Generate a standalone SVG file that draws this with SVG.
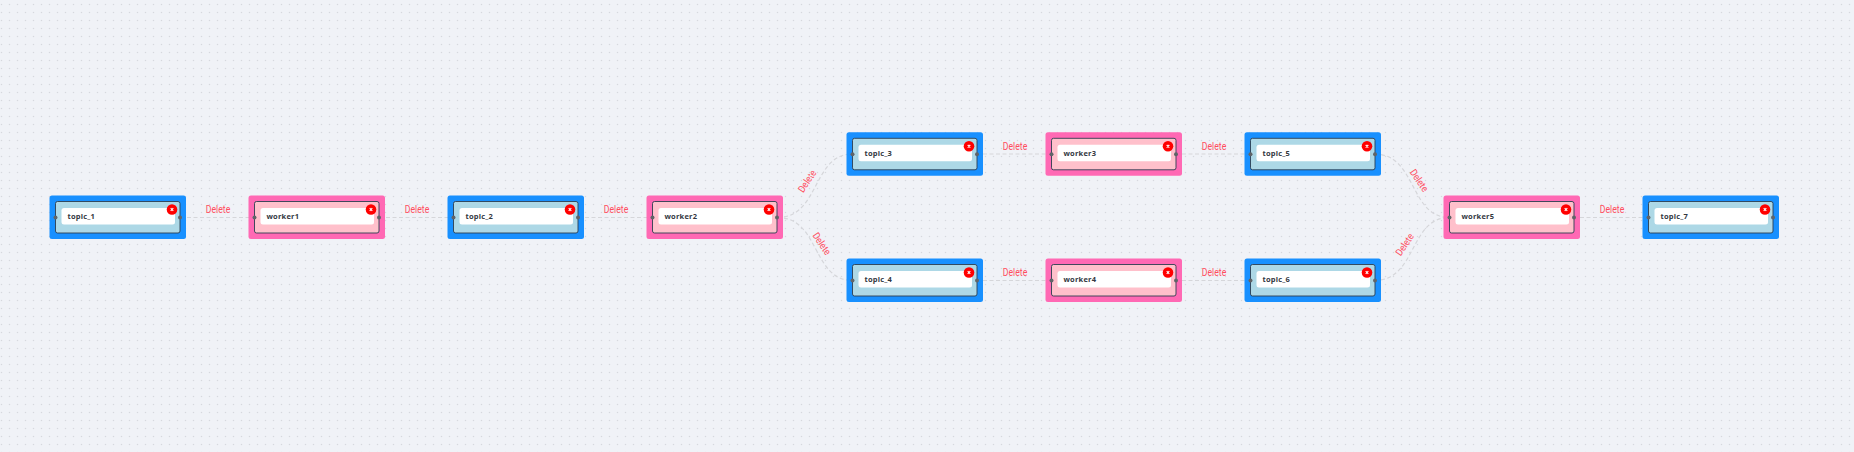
<svg xmlns="http://www.w3.org/2000/svg" width="1854" height="452" viewBox="0 0 1854 452">
<style>
.e{fill:none;stroke:#d5d6da;stroke-width:1.2;stroke-dasharray:4 2.5}
.d{font:400 10px Roboto,"Liberation Sans",sans-serif;fill:#ff4d5e;text-anchor:middle}
.blue{--o:#1890ff;--i:#add8e6}
.pink{--o:#ff69b4;--i:#ffc0cb}
.o{fill:var(--o)}
.i{fill:var(--i);stroke:#2c3e50;stroke-width:.9}
.w{fill:#fff}
.t{font:700 7.500px "Open Sans",sans-serif;fill:#33383f;letter-spacing:.2px}
.h{fill:#606468}
.x{fill:#f00}
.xt{stroke:#fff;stroke-width:1.1;fill:none}
</style>
<defs>
<pattern id="grid" width="8" height="8" patternUnits="userSpaceOnUse"><circle cx="1.500" cy="4.500" r=".75" fill="#d6d8de"/></pattern>
<g id="node"><rect class="o" width="136.500" height="43.500" rx="2.500"/><rect class="i" x="6" y="6" width="124.500" height="31.500" rx="2"/><rect class="w" x="12" y="12.500" width="113.500" height="16.500" rx="2.500"/><circle class="h" cx="6" cy="22" r="2"/><circle class="h" cx="130.500" cy="22" r="2"/><circle class="x" cx="122.500" cy="14" r="5.300"/><path class="xt" d="M121.200 12.700l2.600 2.600m0-2.600l-2.600 2.600"/></g>
</defs>
<rect width="1854" height="452" fill="#f0f2f7"/>
<rect width="1854" height="452" fill="url(#grid)"/>
<g id="connectors">
<path class="e" d="M180.500 217.500H255.500"/><path class="e" d="M379.500 217.500H454.500"/><path class="e" d="M578.500 217.500H653.500"/>
<path class="e" d="M777.500 217.500C820 217.500 812 154 852.500 154"/><path class="e" d="M777.500 217.500C820 217.500 812 280.500 852.500 280.500"/>
<path class="e" d="M976.500 154H1051.500"/><path class="e" d="M1175.500 154H1250.500"/><path class="e" d="M976.500 280.500H1051.500"/><path class="e" d="M1175.500 280.500H1250.500"/>
<path class="e" d="M1374.500 154C1417 154 1409 217.500 1449.500 217.500"/><path class="e" d="M1374.500 280.500C1417 280.500 1409 217.500 1449.500 217.500"/>
<path class="e" d="M1573.500 217.500H1648.500"/>
</g>
<g id="edge-labels">
<text class="d" textLength="24.500" lengthAdjust="spacingAndGlyphs" x="218" y="212.500">Delete</text><text class="d" textLength="24.500" lengthAdjust="spacingAndGlyphs" x="417" y="212.500">Delete</text><text class="d" textLength="24.500" lengthAdjust="spacingAndGlyphs" x="616" y="212.500">Delete</text>
<text class="d" textLength="24.500" lengthAdjust="spacingAndGlyphs" transform="translate(810 183) rotate(-56)">Delete</text>
<text class="d" textLength="24.500" lengthAdjust="spacingAndGlyphs" transform="translate(819 245.700) rotate(56)">Delete</text>
<text class="d" textLength="24.500" lengthAdjust="spacingAndGlyphs" x="1015" y="149.500">Delete</text><text class="d" textLength="24.500" lengthAdjust="spacingAndGlyphs" x="1214" y="149.500">Delete</text><text class="d" textLength="24.500" lengthAdjust="spacingAndGlyphs" x="1015" y="275.500">Delete</text><text class="d" textLength="24.500" lengthAdjust="spacingAndGlyphs" x="1214" y="275.500">Delete</text>
<text class="d" textLength="24.500" lengthAdjust="spacingAndGlyphs" transform="translate(1416.400 182.400) rotate(56)">Delete</text>
<text class="d" textLength="24.500" lengthAdjust="spacingAndGlyphs" transform="translate(1407.600 246.400) rotate(-56)">Delete</text>
<text class="d" textLength="24.500" lengthAdjust="spacingAndGlyphs" x="1612" y="212.500">Delete</text>
</g>
<g id="topic_1" class="blue" transform="translate(49.500 195.500)"><use href="#node"/><text class="t" x="18" y="23.500">topic_1</text></g>
<g id="worker1" class="pink" transform="translate(248.500 195.500)"><use href="#node"/><text class="t" x="18" y="23.500">worker1</text></g>
<g id="topic_2" class="blue" transform="translate(447.500 195.500)"><use href="#node"/><text class="t" x="18" y="23.500">topic_2</text></g>
<g id="worker2" class="pink" transform="translate(646.500 195.500)"><use href="#node"/><text class="t" x="18" y="23.500">worker2</text></g>
<g id="topic_3" class="blue" transform="translate(846.500 132.300)"><use href="#node"/><text class="t" x="18" y="23.500">topic_3</text></g>
<g id="worker3" class="pink" transform="translate(1045.500 132.300)"><use href="#node"/><text class="t" x="18" y="23.500">worker3</text></g>
<g id="topic_5" class="blue" transform="translate(1244.500 132.300)"><use href="#node"/><text class="t" x="18" y="23.500">topic_5</text></g>
<g id="topic_4" class="blue" transform="translate(846.500 258.500)"><use href="#node"/><text class="t" x="18" y="23.500">topic_4</text></g>
<g id="worker4" class="pink" transform="translate(1045.500 258.500)"><use href="#node"/><text class="t" x="18" y="23.500">worker4</text></g>
<g id="topic_6" class="blue" transform="translate(1244.500 258.500)"><use href="#node"/><text class="t" x="18" y="23.500">topic_6</text></g>
<g id="worker5" class="pink" transform="translate(1443.500 195.500)"><use href="#node"/><text class="t" x="18" y="23.500">worker5</text></g>
<g id="topic_7" class="blue" transform="translate(1642.500 195.500)"><use href="#node"/><text class="t" x="18" y="23.500">topic_7</text></g>
</svg>
